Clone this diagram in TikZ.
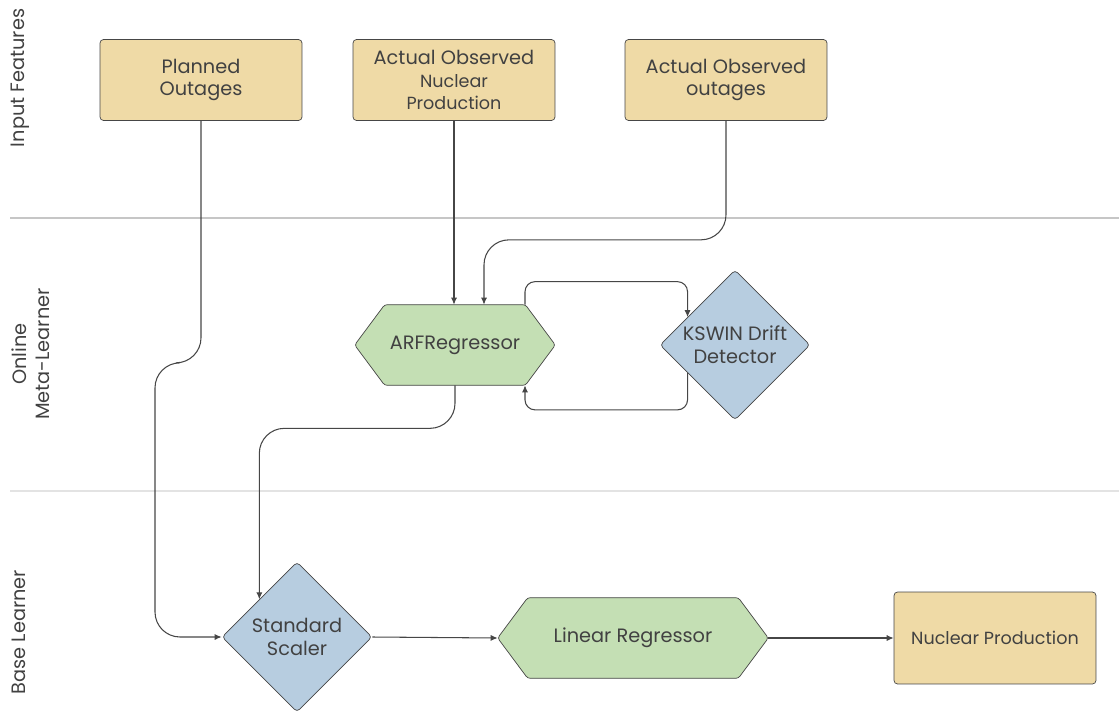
\documentclass[tikz,border=0pt]{standalone}
\usepackage{fontspec}
\setmainfont{Poppins}
\usetikzlibrary{shapes.geometric,calc,arrows.meta,backgrounds}

\definecolor{featfill}{RGB}{239,218,166}
\definecolor{learnfill}{RGB}{196,223,180}
\definecolor{detfill}{RGB}{183,205,224}
\definecolor{edgegray}{RGB}{70,70,70}
\definecolor{textgray}{RGB}{65,65,65}

\tikzstyle{feature}=[draw=edgegray, fill=featfill, rounded corners=2pt, minimum width=4.04cm, minimum height=1.62cm, align=center, text=textgray, font=\fontsize{11}{13}\selectfont]
\tikzstyle{learner}=[minimum height=1.6cm, text=textgray, font=\fontsize{11}{13}\selectfont]
\tikzstyle{hexagon}=[draw=edgegray, fill=learnfill, rounded corners=1.5pt]
\tikzstyle{detector}=[draw=edgegray, fill=detfill, diamond, rounded corners=2pt, minimum width=3cm, minimum height=3cm, inner sep=0pt, align=center, text=textgray, font=\fontsize{11}{13}\selectfont]
\tikzstyle{arrow}=[edgegray, line width=0.6pt, rounded corners=0.5cm, -{Latex[length=4pt,width=3.5pt]}]
\tikzstyle{loop}=[rounded corners=0.2cm]
\tikzstyle{lane}=[rotate=90, align=center, text=textgray, font=\fontsize{11}{13}\selectfont]
\tikzstyle{separator}=[gray!45, line width=0.6pt]

\begin{document}
\begin{tikzpicture}[x=0.02cm, y=-0.02cm]
      \useasboundingbox (0,0) rectangle (1119,713);

      % swim lanes
      \draw[separator] (10,218) -- (1119,218);
      \draw[separator, gray!22, line width=1.6pt] (10,491) -- (1119,491);
      \node[lane] (lanein) at (20,78) {Input Features};
      \node[lane] (lanemeta) at (31,354) {Online\\Meta-Learner};
      \node[lane] (lanebase) at (19,632) {Base Learner};

      \node[feature] (planned) at (201,80) {Planned\\Outages};
      \node[feature] (nucobs) at (454,80) {Actual Observed\\{\fontsize{10}{12}\selectfont Nuclear}\\{\fontsize{10}{12}\selectfont Production}};
      \node[feature] (outobs) at (726,80) {Actual Observed\\outages};
      \node[learner, minimum width=4cm] (arf) at (455,345) {ARFRegressor};
      \node[detector] (kswin) at (735,345) {KSWIN Drift\\Detector};
      \node[detector] (scaler) at (297,637) {Standard\\Scaler};
      \node[learner, minimum width=5.4cm] (linreg) at (633,638) {Linear Regressor};
      \node[feature, minimum height=1.84cm, font=\fontsize{10}{12}\selectfont] (nucprod) at (995,638) {Nuclear Production};

      % hexagon outlines behind the learners
      \begin{pgfonlayer}{background}
        \foreach \n in {arf, linreg}
          \filldraw[hexagon] (\n.west) -- ($(\n.north west)+(30,0)$) -- ($(\n.north east)+(-30,0)$)
            -- (\n.east) -- ($(\n.south east)+(-30,0)$) -- ($(\n.south west)+(30,0)$) -- cycle;
      \end{pgfonlayer}

      \draw[arrow] (planned.south) -- ++(0,242) -- ++(-46,0) |- (scaler.west);
      \draw[arrow] (nucobs.south) -- (nucobs.south |- arf.north);
      \draw[arrow] (outobs.south) -- ++(0,119) -| ($(arf.north)+(29,0)$);
      \draw[arrow, loop] ($(arf.north)+(70,0)$) -- ++(0,-23) -| ($(kswin.west)!0.37!(kswin.north)$);
      \draw[arrow, loop] ($(kswin.west)!0.37!(kswin.south)$) -- ++(0,37) -| ($(arf.south)+(70,0)$);
      \draw[arrow] (arf.south) -- ++(0,43) -| ($(scaler.west)!0.5!(scaler.north)$);
      \draw[arrow] (scaler.east) -- (linreg.west);
      \draw[arrow] (linreg.east) -- (nucprod.west);
    \end{tikzpicture}
\end{document}
